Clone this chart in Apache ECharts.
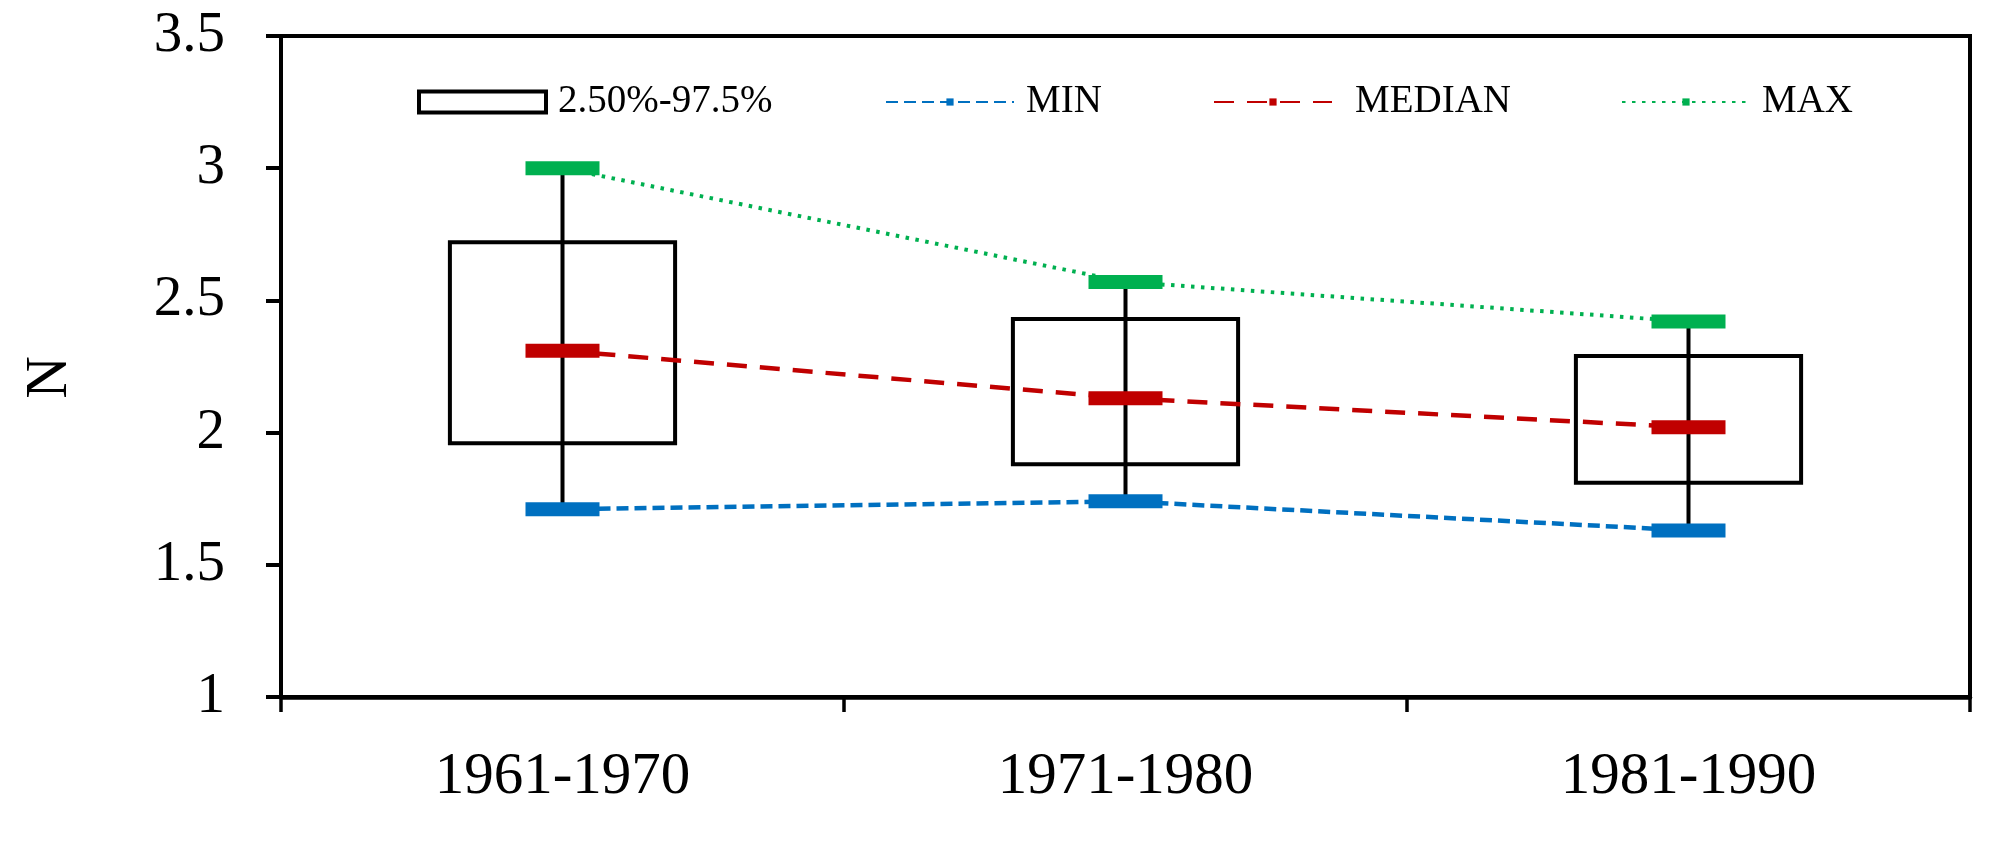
<!DOCTYPE html>
<html>
<head>
<meta charset="utf-8">
<script src="https://cdn.jsdelivr.net/npm/echarts@6/dist/echarts.min.js"></script>
<style>
html,body{margin:0;padding:0;background:#fff;}
#chart{width:2000px;height:853px;}
</style>
</head>
<body>
<div id="chart"></div>
<script>
var categories = ['1961-1970', '1971-1980', '1981-1990'];
var minValues = [1.71, 1.74, 1.63];
var lowValues = [1.96, 1.88, 1.81];   // 2.5%
var medianValues = [2.31, 2.13, 2.02];
var highValues = [2.72, 2.43, 2.29];  // 97.5%
var maxValues = [3.0, 2.57, 2.42];
var yTicks = { min: 1, max: 3.5, interval: 0.5 };

var FONT = '"Liberation Serif", "Times New Roman", serif';
var chart = echarts.init(document.getElementById('chart'));

var boxData = categories.map(function (c, i) {
  return [i, minValues[i], lowValues[i], highValues[i], maxValues[i]];
});

function legendCfg(name, left, width, extra) {
  var o = {
    data: [name],
    left: left,
    top: 81,
    padding: 0,
    itemWidth: width,
    itemHeight: 9,
    selectedMode: false,
    textStyle: { fontFamily: FONT, fontSize: 39, color: '#000', padding: [0, 0, 0, 7], lineHeight: 42 }
  };
  if (extra) { for (var k in extra) o[k] = extra[k]; }
  return o;
}

var option = {
  animation: false,
  backgroundColor: '#fff',
  grid: { left: 281, right: 30, top: 36, bottom: 156, show: true, borderColor: '#000', borderWidth: 4, backgroundColor: 'transparent' },
  legend: [
    legendCfg('2.50%-97.5%', 417, 127, {
      itemHeight: 21,
      data: [{ name: '2.50%-97.5%', icon: 'rect', itemStyle: { color: '#fff', borderColor: '#000', borderWidth: 4 } }]
    }),
    legendCfg('MIN', 885, 128),
    legendCfg('MEDIAN', 1213, 118, { textStyle: { fontFamily: FONT, fontSize: 39, color: '#000', padding: [0, 0, 0, 18], lineHeight: 42 } }),
    legendCfg('MAX', 1621, 128)
  ],
  xAxis: {
    type: 'category',
    data: categories,
    boundaryGap: true,
    axisLine: { lineStyle: { color: '#000', width: 4.5 } },
    axisTick: { show: true, inside: false, length: 15, lineStyle: { color: '#000', width: 3.5 } },
    axisLabel: { fontFamily: FONT, fontSize: 59, color: '#000', margin: 51 }
  },
  yAxis: {
    type: 'value',
    min: yTicks.min,
    max: yTicks.max,
    interval: yTicks.interval,
    name: 'N',
    nameLocation: 'middle',
    nameRotate: 90,
    nameGap: 201,
    nameTextStyle: { fontFamily: FONT, fontSize: 59, color: '#000', padding: [0, 22, 0, 0] },
    splitLine: { show: false },
    axisLine: { show: true, lineStyle: { color: '#000', width: 4 } },
    axisTick: { show: true, inside: false, length: 15, lineStyle: { color: '#000', width: 4 } },
    axisLabel: { fontFamily: FONT, fontSize: 57, color: '#000', margin: 56 }
  },
  series: [
    {
      name: '2.50%-97.5%',
      type: 'custom',
      z: 2,
      data: boxData,
      encode: { x: 0, y: [1, 2, 3, 4] },
      renderItem: function (params, api) {
        var idx = api.value(0);
        var pMin = api.coord([idx, api.value(1)]);
        var pLow = api.coord([idx, api.value(2)]);
        var pHigh = api.coord([idx, api.value(3)]);
        var pMax = api.coord([idx, api.value(4)]);
        var bw = api.size([1, 0])[0] * 0.4;
        return {
          type: 'group',
          children: [
            {
              type: 'rect',
              shape: { x: pHigh[0] - bw / 2, y: pHigh[1], width: bw, height: pLow[1] - pHigh[1] },
              style: { fill: 'none', stroke: '#000', lineWidth: 4 }
            },
            {
              type: 'line',
              shape: { x1: pMax[0], y1: pMax[1], x2: pMin[0], y2: pMin[1] },
              style: { stroke: '#000', lineWidth: 4 }
            }
          ]
        };
      }
    },
    {
      name: 'MIN',
      type: 'line',
      z: 3,
      data: minValues,
      symbol: 'rect',
      symbolSize: [74, 14],
      itemStyle: { color: '#0070C0' },
      lineStyle: { color: '#0070C0', width: 4.5, type: [12, 6] }
    },
    {
      name: 'MEDIAN',
      type: 'line',
      z: 3,
      data: medianValues,
      symbol: 'rect',
      symbolSize: [74, 14],
      itemStyle: { color: '#C00000' },
      lineStyle: { color: '#C00000', width: 4.5, type: [20, 13] }
    },
    {
      name: 'MAX',
      type: 'line',
      z: 3,
      data: maxValues,
      symbol: 'rect',
      symbolSize: [74, 14],
      itemStyle: { color: '#00B050' },
      lineStyle: { color: '#00B050', width: 4, type: [3.5, 6.5] }
    }
  ]
};
chart.setOption(option);
</script>
</body>
</html>
